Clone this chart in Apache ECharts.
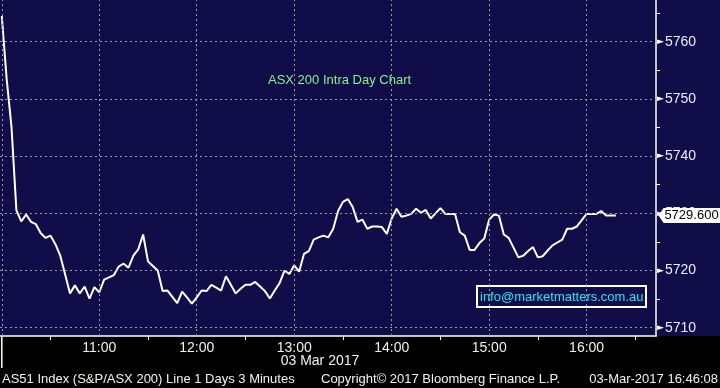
<!DOCTYPE html>
<html><head><meta charset="utf-8">
<script src="https://cdn.jsdelivr.net/npm/echarts@6/dist/echarts.min.js"></script>
<style>html,body{margin:0;padding:0;background:#000}#c{width:720px;height:388px}</style>
</head><body><div id="c"></div>
<script>
// ---- data ----
const sessionStart = "10:00";      // first bar
const barMinutes = 3;              // "Line 1 Days 3 Minutes"
const prices = [
  5764.5, 5753.5, 5745.0, 5730.5, 5728.6, 5729.8, 5728.5, 5728.1, 5726.5, 5725.7,
  5726.1, 5724.6, 5722.6, 5719.3, 5716.0, 5717.4, 5716.0, 5717.2, 5715.1, 5717.1,
  5716.2, 5718.4, 5718.8, 5719.2, 5720.7, 5721.2, 5720.5, 5722.6, 5723.7, 5726.3,
  5721.6, 5720.8, 5720.0, 5716.4, 5716.5, 5715.4, 5714.3, 5716.3, 5715.3, 5714.2,
  5715.3, 5716.5, 5716.4, 5717.5, 5717.0, 5716.5, 5719.0, 5717.5, 5716.0, 5716.8,
  5717.5, 5717.5, 5718.0, 5717.2, 5716.4, 5715.1, 5716.5, 5717.8, 5720.0, 5719.4,
  5720.9, 5719.8, 5722.9, 5723.4, 5725.4, 5725.8, 5726.1, 5725.8, 5727.3, 5730.4,
  5732.0, 5732.5, 5731.1, 5728.5, 5728.9, 5727.3, 5727.7, 5727.7, 5727.6, 5726.4,
  5729.1, 5730.8, 5729.4, 5729.6, 5729.9, 5730.8, 5730.1, 5730.6, 5729.1, 5730.0,
  5730.9, 5729.9, 5729.9, 5729.9, 5726.7, 5726.1, 5723.6, 5723.6, 5724.8, 5725.6,
  5728.9, 5729.8, 5729.6, 5726.3, 5725.7, 5724.0, 5722.3, 5722.6, 5723.4, 5724.1,
  5722.3, 5722.5, 5723.5, 5724.4, 5724.9, 5725.4, 5727.3, 5727.3, 5727.7, 5728.8,
  5729.9, 5729.9, 5729.9, 5730.4, 5729.6, 5729.6, 5729.6
];
const lastPrice = 5729.6;
const hourGrid = ["10:00","11:00","12:00","13:00","14:00","15:00","16:00"];
const hourLabels = ["11:00","12:00","13:00","14:00","15:00","16:00"];
const halfHourTicks = ["10:30","11:30","12:30","13:30","14:30","15:30","16:30"];
const priceLabels = [5710, 5720, 5730, 5740, 5750, 5760];
const priceMinorTicks = [5715, 5725, 5735, 5745, 5755, 5765];
const chartTitle = "ASX 200 Intra Day Chart";
const dateLabel = "03 Mar 2017";
const emailText = "info@marketmatters.com.au";
const footerLeft = "AS51 Index (S&P/ASX 200) Line 1 Days 3 Minutes";
const footerMid = "Copyright\u00A9 2017 Bloomberg Finance L.P.";
const footerRight = "03-Mar-2017 16:46:08";

// ---- helpers ----
const toMin = s => { const p = s.split(":"); return +p[0] * 60 + +p[1]; };
const fmtMin = m => { const h = Math.floor(m / 60), mm = Math.round(m - h * 60); return (h < 10 ? "0" : "") + h + ":" + (mm < 10 ? "0" : "") + mm; };
const t0 = toMin(sessionStart);
const lineData = prices.map((v, i) => [t0 + i * barMinutes, v]);

const NAVY = "#100d48";
const GRID = "#9c9c9c";
const FONT = "'Liberation Sans', Arial, sans-serif";
const X_MIN = 598.9, X_MAX = 1002.7, Y_MIN = 5708.55, Y_MAX = 5767.3;

const chart = echarts.init(document.getElementById("c"), null, { renderer: "canvas" });
const option = {
  animation: false,
  backgroundColor: NAVY,
  grid: { left: 0, right: 64, top: 0, height: 336, show: false },
  xAxis: {
    type: "value", min: X_MIN, max: X_MAX,
    axisLine: { show: true, lineStyle: { color: "#ffffff", width: 1.5 } },
    axisTick: { show: true, customValues: halfHourTicks.map(toMin), length: 4, lineStyle: { color: "#ffffff", width: 1 } },
    axisLabel: { show: true, customValues: hourLabels.map(toMin), formatter: v => fmtMin(v), color: "#f4f2e6", fontFamily: FONT, fontSize: 14, margin: 5 },
    splitLine: { show: false }
  },
  yAxis: {
    type: "value", position: "right", min: Y_MIN, max: Y_MAX,
    axisLine: { show: true, lineStyle: { color: "#ffffff", width: 1.5 } },
    axisTick: { show: true, customValues: priceMinorTicks, length: 4, lineStyle: { color: "#ffffff", width: 1 } },
    axisLabel: {
      show: true, customValues: priceLabels, margin: 1,
      formatter: v => "{t|\u25BA}{n|" + v + "}",
      rich: {
        t: { color: "#ffffff", fontSize: 9, fontFamily: "DejaVu Sans", padding: [0, 1, 0, 0] },
        n: { color: "#e6eeff", fontSize: 14, fontFamily: FONT }
      }
    },
    splitLine: { show: false }
  },
  graphic: {
    elements: [
      { type: "rect", z: -10, shape: { x: 0, y: 336, width: 720, height: 52 }, style: { fill: "#000000" } },
      { type: "text", x: 268, y: 80, style: { text: chartTitle, fill: "#8fee8f", font: "13px 'Liberation Sans', Arial, sans-serif", textVerticalAlign: "middle" } },
      { type: "rect", shape: { x: 477, y: 286, width: 169, height: 21 }, style: { fill: "transparent", stroke: "#ffffff", lineWidth: 2 } },
      { type: "text", x: 480, y: 297, style: { text: emailText, fill: "#1ee6f2", font: "13px 'Liberation Sans', Arial, sans-serif", textVerticalAlign: "middle" } },
      { type: "text", x: 320, y: 361, style: { text: dateLabel, fill: "#f4f2e6", font: "14px " + FONT, textAlign: "center", textVerticalAlign: "middle" } },
      { type: "text", x: 2, y: 379, style: { text: footerLeft, fill: "#f4f2e6", font: "13px " + FONT, textVerticalAlign: "middle" } },
      { type: "text", x: 321, y: 379, style: { text: footerMid, fill: "#f4f2e6", font: "13px " + FONT, textVerticalAlign: "middle" } },
      { type: "text", x: 718, y: 379, style: { text: footerRight, fill: "#f4f2e6", font: "13px " + FONT, textAlign: "right", textVerticalAlign: "middle" } }
    ]
  },
  series: [
    {
      type: "line", data: [], z: 1, silent: true,
      markLine: {
        silent: true, symbol: "none", label: { show: false },
        lineStyle: { color: GRID, type: [2, 3], width: 1 },
        data: hourGrid.map(h => ({ xAxis: toMin(h) })).concat(priceLabels.map(p => ({ yAxis: p })))
      }
    },
    {
      type: "line", data: lineData, z: 3, showSymbol: false, symbol: "none", smooth: false,
      lineStyle: { color: "#ffffff", width: 2 },
      markPoint: {
        silent: true,
        symbol: "path://M0,7.5L5,0H61V15H5Z", symbolKeepAspect: false, symbolSize: [62, 15], symbolOffset: [33.5, 0],
        itemStyle: { color: "#ffffff" },
        label: { show: true, position: "inside", color: "#000000", fontSize: 13, fontFamily: FONT, offset: [2, 0], formatter: () => lastPrice.toFixed(3) },
        data: [{ coord: [X_MAX, lastPrice] }]
      }
    }
  ]
};
chart.setOption(option);
// day separator below the axis at the session start
const sx = chart.convertToPixel({ xAxisIndex: 0 }, t0);
chart.setOption({ graphic: { elements: option.graphic.elements.concat([
  { type: "line", shape: { x1: sx, y1: 336, x2: sx, y2: 368 }, style: { stroke: "#ffffff", lineWidth: 1.5 } }
]) } });
</script>
</body></html>
